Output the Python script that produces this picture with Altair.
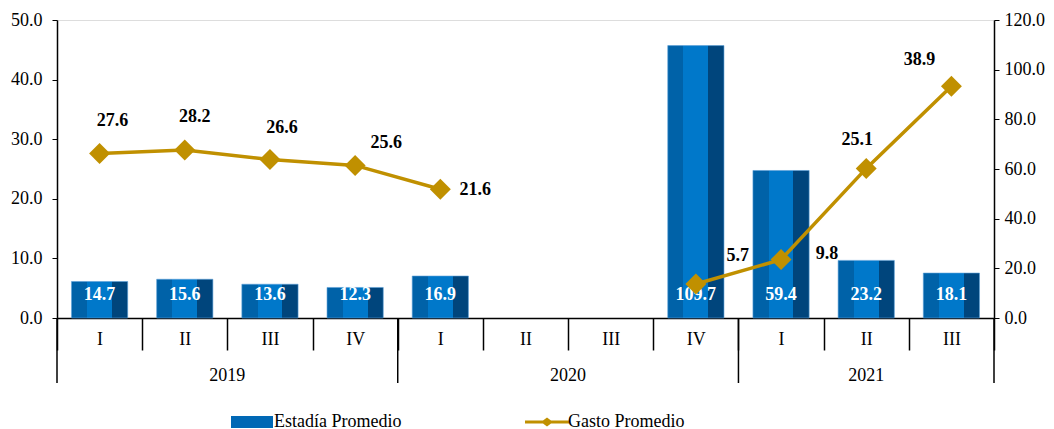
import altair as alt
import pandas as pd

years = ["2019", "2019", "2019", "2019", "2020", "2020", "2020", "2020", "2021", "2021", "2021"]
quarters = ["I", "II", "III", "IV", "I", "II", "III", "IV", "I", "II", "III"]
estadia = [14.7, 15.6, 13.6, 12.3, 16.9, None, None, 109.7, 59.4, 23.2, 18.1]
gasto = [27.6, 28.2, 26.6, 25.6, 21.6, None, None, 5.7, 9.8, 25.1, 38.9]
series_names = ["Estadía Promedio", "Gasto Promedio"]

keys = [f"{y}-{q}" for y, q in zip(years, quarters)]

# line segments (break the line where values are missing)
seg, s, prev_null = [], 0, False
for g in gasto:
    if g is None:
        prev_null = True
        seg.append(None)
    else:
        if prev_null:
            s += 1
            prev_null = False
        seg.append(s)

df = pd.DataFrame({"key": keys, "year": years, "quarter": quarters,
                   "estadia": estadia, "gasto": gasto, "seg": seg,
                   "s_bar": [series_names[0]] * len(keys),
                   "s_line": [series_names[1]] * len(keys)})

year_list = list(dict.fromkeys(years))
first_keys = [keys[years.index(y)] for y in year_list]
starts = pd.DataFrame({"key": first_keys})
ends = pd.DataFrame({"key": [keys[-1]]})
ylab_rows = {}
for y in year_list:
    ks = [k for k, yy in zip(keys, years) if yy == y]
    n = len(ks)
    frac = n / 2 - n // 2
    ylab_rows.setdefault(frac, []).append({"key": ks[n // 2], "year": y})

FONT = "Liberation Serif"
BLUE_L, BLUE_M, BLUE_D = "#0078CA", "#0062A8", "#00457C"
GOLD = "#C09000"

xaxis = alt.Axis(title=None, labelExpr="split(datum.value, '-')[1]", labelAngle=0,
                 tickBand="extent", tickSize=32, labelPadding=-20, tickColor="black",
                 tickWidth=1.5, domainColor="black", domainWidth=1.5,
                 labelFont=FONT, labelFontSize=18, labelColor="black")
xscale = alt.Scale(domain=keys, paddingInner=0, paddingOuter=0, round=False)


def X(band=None):
    if band is None:
        return alt.X("key:N", sort=keys, scale=xscale, axis=xaxis)
    return alt.X("key:N", sort=keys, scale=xscale, axis=xaxis, bandPosition=band)


base = alt.Chart(df)

grad = alt.Gradient(
    gradient="linear", x1=0, x2=1, y1=0, y2=0,
    stops=[alt.GradientStop(offset=0, color=BLUE_M), alt.GradientStop(offset=0.28, color=BLUE_M),
           alt.GradientStop(offset=0.28, color=BLUE_L), alt.GradientStop(offset=0.72, color=BLUE_L),
           alt.GradientStop(offset=0.72, color=BLUE_D), alt.GradientStop(offset=1, color=BLUE_D)])

y_right = alt.Y("estadia:Q", scale=alt.Scale(domain=[0, 120]),
                axis=alt.Axis(orient="right", title=None, values=[0, 20, 40, 60, 80, 100, 120],
                              format=".1f", grid=False, tickSize=5, labelPadding=5,
                              tickColor="black", domainColor="black", domainWidth=1.5,
                              labelFont=FONT, labelFontSize=18, labelColor="black"))

bar_fill = alt.Fill(
    "s_bar:N", scale=alt.Scale(domain=[series_names[0]], range=["#0068B5"]),
    legend=alt.Legend(title=None, orient="none", legendX=170, legendY=393,
                      symbolType="M-1,-1.2L7.4,-1.2L7.4,1.2L-1,1.2Z", symbolSize=100, labelOffset=29,
                      symbolOpacity=1, symbolStrokeWidth=0,
                      labelFont=FONT, labelFontSize=18, labelColor="black"))

bars = base.transform_filter("isValid(datum.estadia)").mark_bar(
    width=alt.RelativeBandSize(0.66), color=grad, stroke="#5A9FD8", strokeWidth=0.6
).encode(x=X(), y=y_right)

bars_legend_helper = base.transform_filter("isValid(datum.estadia)").mark_bar(
    width=alt.RelativeBandSize(0.66), opacity=0
).encode(x=X(), y=y_right, fill=bar_fill)

bar_labels = base.transform_filter("isValid(datum.estadia)").mark_text(
    font=FONT, fontSize=18, fontWeight="bold", color="white", dy=-23, baseline="middle"
).encode(x=X(), y=alt.Y(datum=0), text=alt.Text("estadia:Q", format=".1f"))

bar_group = alt.layer(bars, bars_legend_helper, bar_labels)

y_left = alt.Y("gasto:Q", scale=alt.Scale(domain=[0, 50]),
               axis=alt.Axis(orient="left", title=None, values=[0, 10, 20, 30, 40, 50],
                             format=".1f", grid=False, tickSize=5, labelPadding=10,
                             tickColor="black", domainColor="black", domainWidth=1.5,
                             labelFont=FONT, labelFontSize=18, labelColor="black"))

line_stroke = alt.Stroke(
    "s_line:N", scale=alt.Scale(domain=[series_names[1]], range=[GOLD]),
    legend=alt.Legend(title=None, orient="none", legendX=464, legendY=393,
                      symbolType="M-1,-0.3L2.6,-0.3L3.4,-0.9L4.2,-0.3L7.8,-0.3L7.8,0.3L4.2,0.3L3.4,0.9L2.6,0.3L-1,0.3Z",
                      symbolSize=100, labelOffset=29, symbolFillColor=GOLD, symbolStrokeWidth=0,
                      symbolOpacity=1,
                      labelFont=FONT, labelFontSize=18, labelColor="black"))

line = base.transform_filter("isValid(datum.gasto)").mark_line(strokeWidth=3.5).encode(
    x=X(), y=y_left, detail="seg:N", stroke=line_stroke)

points = base.transform_filter("isValid(datum.gasto)").mark_point(
    shape="diamond", filled=True, size=440, color=GOLD, opacity=1).encode(x=X(), y=y_left)

label_offsets = {
    "2019-I": (13, -33), "2019-II": (10, -33), "2019-III": (12, -31), "2019-IV": (31, -22),
    "2020-I": (35, 1), "2020-IV": (42, -28), "2021-I": (46, -6),
    "2021-II": (-9, -28), "2021-III": (-32, -26),
}
line_labels = []
for k, (dx, dy) in label_offsets.items():
    line_labels.append(
        base.transform_filter(alt.datum.key == k).mark_text(
            font=FONT, fontSize=18, fontWeight="bold", color="black", dx=dx, dy=dy,
            baseline="middle").encode(x=X(), y=y_left, text=alt.Text("gasto:Q", format=".1f")))

divider_start = alt.Chart(starts).mark_rule(color="black", strokeWidth=1.5).encode(
    x=X(0), y=alt.value(298), y2=alt.value(363))
divider_end = alt.Chart(ends).mark_rule(color="black", strokeWidth=1.5).encode(
    x=X(1), y=alt.value(298), y2=alt.value(363))

year_labels = []
for frac, rows in ylab_rows.items():
    year_labels.append(
        alt.Chart(pd.DataFrame(rows)).mark_text(
            font=FONT, fontSize=18, color="black", baseline="middle").encode(
            x=X(frac), y=alt.value(356), text="year:N"))

line_group = alt.layer(line, points, *line_labels, divider_start, divider_end, *year_labels)

chart = alt.layer(bar_group, line_group).resolve_scale(y="independent").properties(
    width=937, height=298, padding={"left": 2, "top": 3, "right": 0, "bottom": 0}
).configure_view(stroke=None).configure(font=FONT).configure_legend(
    labelFont=FONT, labelFontSize=18, labelColor="black")

chart.save("out.html", embed_options={"renderer": "svg", "actions": False})
